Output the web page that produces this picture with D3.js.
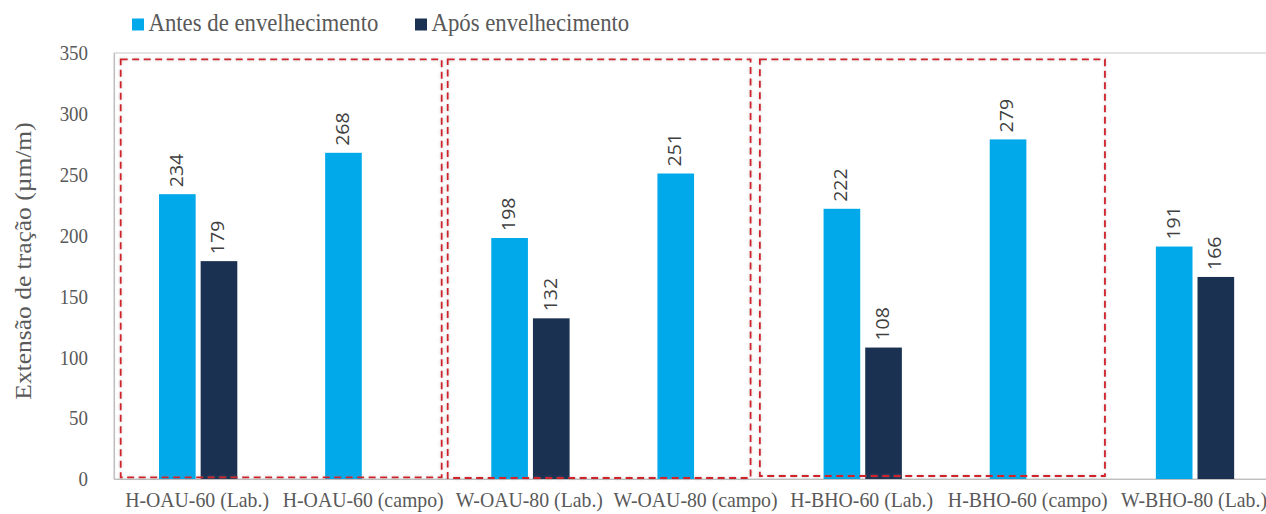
<!DOCTYPE html>
<html>
<head>
<meta charset="utf-8">
<script src="https://cdn.jsdelivr.net/npm/d3@7/dist/d3.min.js"></script>
<style>
  html, body { margin: 0; padding: 0; background: #ffffff; }
  svg { display: block; }
</style>
</head>
<body>
<svg id="chart" width="1266" height="514"></svg>
<script>
// Sample categories and series
const categories = [
  "H-OAU-60 (Lab.)", "H-OAU-60 (campo)", "W-OAU-80 (Lab.)", "W-OAU-80 (campo)",
  "H-BHO-60 (Lab.)", "H-BHO-60 (campo)", "W-BHO-80 (Lab.)"
];
const seriesNames = ["Antes de envelhecimento", "Após envelhecimento"];
const antes = [234, 268, 198, 251, 222, 279, 191];
const apos  = [179, null, 132, null, 108, null, 166];
const yTicks = [0, 50, 100, 150, 200, 250, 300, 350];
const yTitle = "Extensão de tração (µm/m)";
// Groups of categories outlined by dashed frames
const frameGroups = [["H-OAU-60 (Lab.)", "H-OAU-60 (campo)"],
                     ["W-OAU-80 (Lab.)", "W-OAU-80 (campo)"],
                     ["H-BHO-60 (Lab.)", "H-BHO-60 (campo)"]];

const colors = ["#02a9ea", "#1b3152"];
const serif = "'Liberation Serif', 'Times New Roman', serif";
const sx = 0.9; // horizontal condensing of the lettering

const svg = d3.select("#chart");
const plot = { left: 114, right: 1277, top: 53, bottom: 479 };

const x = d3.scaleBand().domain(categories).range([plot.left, plot.right]).padding(0);
const xs = d3.scaleBand().domain(seriesNames).range([45, 123.3]).paddingInner(0.12);
const y = d3.scaleLinear().domain([0, 350]).range([plot.bottom, plot.top]);

// soft shadow used by the dashed frames
const defs = svg.append("defs");
const f = defs.append("filter").attr("id", "glow")
  .attr("x", "-5%").attr("y", "-5%").attr("width", "110%").attr("height", "110%");
f.append("feDropShadow").attr("dx", 0).attr("dy", 0).attr("stdDeviation", 1.6)
  .attr("flood-color", "#808080").attr("flood-opacity", 0.45);

// plot area border
svg.append("rect")
  .attr("x", plot.left).attr("y", plot.top)
  .attr("width", plot.right - plot.left).attr("height", plot.bottom - plot.top)
  .attr("fill", "none").attr("stroke", "#d0d0d0").attr("stroke-width", 1.2);

// y axis
const yAxis = d3.axisLeft(y).tickValues(yTicks).tickSize(0).tickPadding(26);
const gy = svg.append("g").attr("transform", `translate(${plot.left},0)`).call(yAxis);
gy.select(".domain").attr("stroke", "#bfbfbf").attr("stroke-width", 1.2);
gy.selectAll(".tick text")
  .attr("font-family", serif).attr("font-size", 21).attr("fill", "#595959")
  .attr("text-anchor", "end")
  .each(function () {
    const t = d3.select(this);
    const xx = +t.attr("x");
    t.attr("x", 0).attr("transform", `translate(${xx},0) scale(${sx},1)`);
  });

// x axis
const xAxis = d3.axisBottom(x).tickSize(0).tickPadding(0);
const gx = svg.append("g").attr("transform", `translate(0,${plot.bottom})`).call(xAxis);
gx.select(".domain").attr("stroke", "#bfbfbf").attr("stroke-width", 1.2);
gx.selectAll(".tick text")
  .attr("font-family", serif).attr("font-size", 22).attr("fill", "#595959")
  .attr("y", 0).attr("dy", 0)
  .attr("transform", `translate(0,28) scale(${sx},1)`);

// bars
const rows = categories.map((c, i) => ({ cat: c, vals: [antes[i], apos[i]] }));
const groups = svg.append("g").selectAll("g").data(rows).join("g")
  .attr("transform", d => `translate(${x(d.cat)},0)`);

groups.selectAll("rect")
  .data(d => d.vals.map((v, k) => ({ v, k })).filter(e => e.v != null))
  .join("rect")
  .attr("x", e => xs(seriesNames[e.k]))
  .attr("width", xs.bandwidth())
  .attr("y", e => y(e.v))
  .attr("height", e => y(0) - y(e.v))
  .attr("fill", e => colors[e.k]);

// value labels
groups.selectAll("text.val")
  .data(d => d.vals.map((v, k) => ({ v, k })).filter(e => e.v != null))
  .join("text")
  .attr("class", "val")
  .attr("transform", e => `translate(${xs(seriesNames[e.k]) + xs.bandwidth() / 2 - 1},${y(e.v) - 7}) scale(${sx},1) rotate(-90)`)
  .attr("text-anchor", "start")
  .attr("dy", "0.36em")
  .attr("font-family", "'Open Sans', 'Liberation Sans', sans-serif")
  .attr("font-size", 19.5)
  .attr("fill", "#404040")
  .text(e => e.v);

// dashed frames around category pairs
const frameInsets = [[6.7, -4.6, 59.3, 477.3], [1.4, -28, 59.3, 478], [-18.7, -5.9, 59.3, 476]];
const framesG = svg.append("g").attr("filter", "url(#glow)");
frameGroups.forEach((g, i) => {
  const [il, ir, t, b] = frameInsets[i];
  const x0 = x(g[0]) + il;
  const x1 = x(g[g.length - 1]) + x.bandwidth() + ir;
  framesG.append("rect")
    .attr("x", x0).attr("y", t).attr("width", x1 - x0).attr("height", b - t)
    .attr("fill", "none").attr("stroke", "#d0202a").attr("stroke-width", 1.8)
    .attr("stroke-dasharray", "7,4.5");
});

// y axis title
svg.append("text")
  .attr("transform", `translate(31,261) scale(${sx},1) rotate(-90)`)
  .attr("text-anchor", "middle")
  .attr("font-family", serif).attr("font-size", 25.5).attr("fill", "#595959")
  .text(yTitle);

// legend
const legendPos = [132, 415];
const lg = svg.append("g");
seriesNames.forEach((s, i) => {
  lg.append("rect").attr("x", legendPos[i]).attr("y", 18.5)
    .attr("width", 12).attr("height", 12).attr("fill", colors[i]);
  lg.append("text")
    .attr("transform", `translate(${legendPos[i] + 16.5},31) scale(${sx},1)`)
    .attr("font-family", serif).attr("font-size", 25.3).attr("fill", "#595959")
    .text(s);
});
</script>
</body>
</html>
